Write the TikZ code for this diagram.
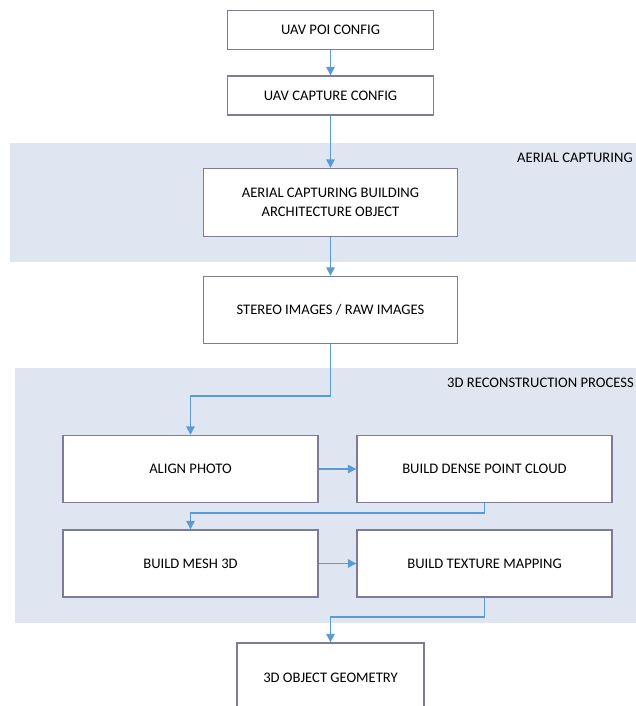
\documentclass[tikz,border=0pt]{standalone}
\usepackage{fontspec}
\setmainfont{Carlito}
\usetikzlibrary{arrows.meta}
\definecolor{band}{HTML}{DFE6F2}
\definecolor{boxline}{HTML}{7E7B98}
\definecolor{arr}{HTML}{5B9BD5}
\begin{document}
\begin{tikzpicture}[x=1pt,y=-1pt,
  box/.style={draw=boxline,line width=1.4pt,fill=white,inner sep=0pt,align=center,font=\fontsize{14.6}{19}\selectfont,text=black},
  flow/.style={draw=arr,line width=1.4pt,-{Triangle[width=8.5pt,length=8.5pt]}},
  bandlabel/.style={anchor=west,inner sep=0pt,font=\fontsize{14.6}{16}\selectfont,text=black}]
\useasboundingbox (0,0) rectangle (635,706);
\fill[white] (0,0) rectangle (635,706);
% bands
\fill[band] (10,143) rectangle (640,262);
\fill[band] (15,368) rectangle (640,623);
\node[bandlabel] (l1) at (517,158) {AERIAL CAPTURING};
\node[bandlabel] (l2) at (447,383) {3D RECONSTRUCTION PROCESS};
% boxes
\node[box,minimum width=206pt,minimum height=39pt] (b1) at (330.5,30) {UAV POI CONFIG};
\node[box,minimum width=206pt,minimum height=39pt] (b2) at (330.5,95.5) {UAV CAPTURE CONFIG};
\node[box,minimum width=254pt,minimum height=68pt] (b3) at (330.5,202.5) {AERIAL CAPTURING BUILDING\\ARCHITECTURE OBJECT};
\node[box,minimum width=254pt,minimum height=67pt] (b4) at (330.5,310) {STEREO IMAGES / RAW IMAGES};
\node[box,minimum width=255pt,minimum height=67pt] (b5) at (190.5,469) {ALIGN PHOTO};
\node[box,minimum width=255pt,minimum height=67pt] (b6) at (484.5,469) {BUILD DENSE POINT CLOUD};
\node[box,minimum width=255pt,minimum height=67pt] (b7) at (190.5,563.5) {BUILD MESH 3D};
\node[box,minimum width=255pt,minimum height=67pt] (b8) at (484.5,563.5) {BUILD TEXTURE MAPPING};
\node[box,minimum width=187pt,minimum height=70pt] (b9) at (330.5,678) {3D OBJECT GEOMETRY};
% connectors
\coordinate (k1) at (330.5,396);
\coordinate (k2) at (484.5,513);
\coordinate (k3) at (484.5,617);
\draw[flow] (b1) -- (b2);
\draw[flow] (b2) -- (b3);
\draw[flow] (b3) -- (b4);
\draw[flow] (b4.south) -- (k1) -| (b5.north);
\draw[flow] (b5) -- (b6);
\draw[flow] (b6.south) -- (k2) -| (b7.north);
\draw[flow] (b7) -- (b8);
\draw[flow] (b8.south) -- (k3) -| (b9.north);
\end{tikzpicture}
\end{document}
